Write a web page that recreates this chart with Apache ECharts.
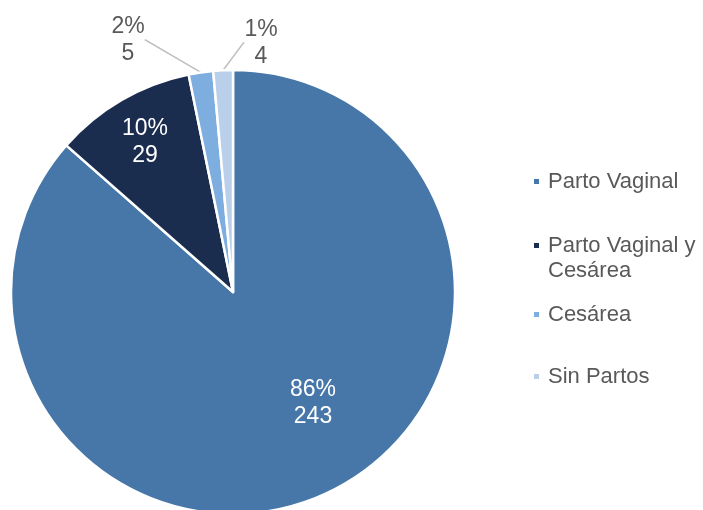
<!DOCTYPE html>
<html>
<head>
<meta charset="utf-8">
<script src="https://cdn.jsdelivr.net/npm/echarts@6/dist/echarts.min.js"></script>
<style>
  html, body { margin: 0; padding: 0; background: #ffffff; }
  #chart { width: 703px; height: 510px; }
</style>
</head>
<body>
<div id="chart"></div>
<script>
// Distribución por tipo de parto
const categories = ['Parto Vaginal', 'Parto Vaginal y Cesárea', 'Cesárea', 'Sin Partos'];
// Legend text; the leading blank line keeps the square beside the first line
const legendNames = ['Parto Vaginal', ' \nParto Vaginal y\nCesárea', 'Cesárea', 'Sin Partos'];
const values = [243, 29, 5, 4];
const sliceColors = ['#4677a8', '#1b2d4f', '#7eaddf', '#b9cfea'];
const insideLabel = [true, true, false, false];

const total = values.reduce((a, b) => a + b, 0);
const FONT = '"Liberation Sans", Arial, sans-serif';

// Label anchor points (centre of each two-line label)
const labelSpots = [
  { x: 313, y: 403 },
  { x: 145, y: 142 },
  { x: 128, y: 40 },
  { x: 261, y: 43 }
];

const seriesData = categories.map((name, i) => ({
  name: name,
  value: values[i],
  itemStyle: { color: sliceColors[i] },
  label: insideLabel[i]
    ? { position: 'inside', color: '#ffffff' }
    : { position: 'outside', color: '#595959' },
  labelLine: { show: !insideLabel[i] }
}));

// One legend block per entry so each row sits at its own height
const legendTops = [169, 208, 302, 364];
const legends = categories.map((name, i) => ({
  show: true,
  data: [name],
  left: 532,
  top: legendTops[i],
  padding: 0,
  orient: 'vertical',
  icon: 'rect',
  itemWidth: 7,
  itemHeight: 7,
  selectedMode: false,
  formatter: () => legendNames[i],
  textStyle: {
    fontFamily: FONT,
    fontSize: 22,
    color: '#595959',
    lineHeight: 25,
    padding: [0, 0, 0, 3]
  }
}));

const chart = echarts.init(document.getElementById('chart'), null, { renderer: 'canvas' });
chart.setOption({
  animation: false,
  backgroundColor: '#ffffff',
  legend: legends,
  series: [{
    type: 'pie',
    center: [233, 292],
    radius: 222,
    startAngle: 90,
    clockwise: true,
    avoidLabelOverlap: false,
    itemStyle: { borderColor: '#ffffff', borderWidth: 2.5 },
    label: {
      show: true,
      fontFamily: FONT,
      fontSize: 23,
      lineHeight: 27,
      align: 'center',
      formatter: p => Math.round(p.value / total * 100) + '%\n' + p.value
    },
    labelLine: {
      show: true,
      length: 1,
      length2: 1,
      lineStyle: { color: '#bfbfbf', width: 1.5 }
    },
    labelLayout: p => ({
      x: labelSpots[p.dataIndex].x,
      y: labelSpots[p.dataIndex].y,
      align: 'center',
      verticalAlign: 'middle'
    }),
    emphasis: { disabled: true },
    data: seriesData
  }]
});
</script>
</body>
</html>
